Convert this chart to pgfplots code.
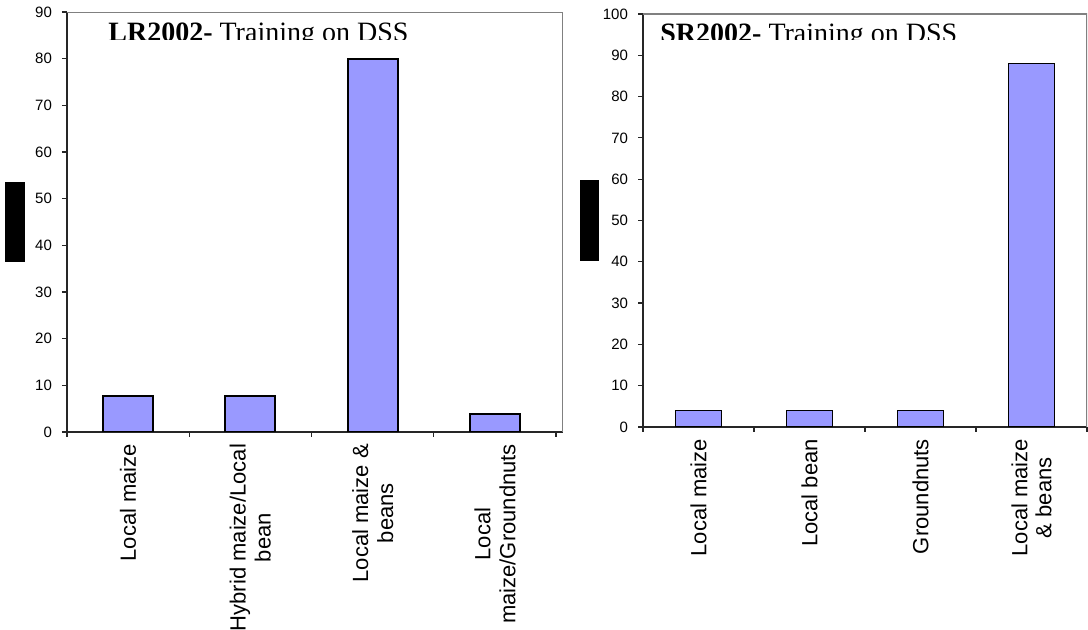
\documentclass[border=0pt]{standalone}
\usepackage{pgfplots}
\pgfplotsset{compat=1.18}
\usepackage{fontspec}
\setmainfont{Liberation Serif}
\newfontfamily\arial{Liberation Sans}
\definecolor{barblue}{HTML}{9999FF}
\definecolor{framegray}{HTML}{808080}

\pgfplotsset{
  cropbars/.style={
    scale only axis,
    anchor=south west,
    ybar,
    bar shift=0pt,
    axis x line*=bottom,
    axis y line*=left,
    axis line style={-, draw=black!85, line width=0.6pt},
    xmin=-0.5,
    ymin=0,
    xtick={-0.5,0.5,1.5,2.5,3.5},
    x tick label as interval,
    tick align=outside,
    major tick length=2.5pt,
    tick style={black!85, line width=0.6pt},
    ytick distance=10,
    /pgf/number format/assume math mode=true,
    yticklabel style={font=\arial\fontsize{7.5}{9}\selectfont, xshift=-1.5pt},
    xticklabel style={font=\arial\fontsize{11}{12.5}\selectfont,
      rotate=90, anchor=east, align=center},
  },
  cropbar/.style={fill=barblue, draw=black, line width=0.9pt},
}

\begin{document}
\begin{tikzpicture}
\useasboundingbox (0pt,0pt) rectangle (544pt,315pt);

% Long rains 2002
\begin{axis}[cropbars,
    at={(33.5pt,99pt)},
    width=248pt, height=210pt,
    xmax=3.557, ymax=90,
    bar width=25pt,
    xticklabels={Local maize, {Hybrid maize/Local\\bean}, {Local maize \&\\beans}, {Local\\maize/Groundnuts}},
  ]
  \addplot[cropbar] coordinates {(0,7.7) (1,7.7) (2,80) (3,3.8)};
  \draw[framegray, line width=1pt] (rel axis cs:0,1) -- (rel axis cs:1,1) -- (rel axis cs:1,0);
\end{axis}

% Short rains 2002
\begin{axis}[cropbars,
    at={(321.5pt,101.5pt)},
    width=222pt, height=206.5pt,
    xmax=3.5, ymax=100,
    bar width=23pt,
    xticklabel style={font=\arial\fontsize{11}{12}\selectfont},
    xticklabels={Local maize, Local bean, Groundnuts, {Local maize\\\& beans}},
  ]
  \addplot[cropbar] coordinates {(0,4) (1,4) (2,4) (3,88)};
  \draw[framegray, line width=1pt] (rel axis cs:0,1) -- (rel axis cs:1,1) -- (rel axis cs:1,0);
\end{axis}

% panel headings, cut off along their lower edge
\begin{scope}
  \clip (34pt,295pt) rectangle (281pt,309pt);
  \node[anchor=base west, inner sep=0pt, font=\fontsize{14}{16}\selectfont] at (54pt,294.25pt)
    {\textbf{LR2002-} Training on DSS};
\end{scope}
\begin{scope}
  \clip (322pt,295.25pt) rectangle (543pt,308pt);
  \node[anchor=base west, inner sep=0pt, font=\fontsize{14}{16}\selectfont] at (330pt,293.75pt)
    {\textbf{SR2002-} Training on DSS};
\end{scope}

% blacked-out axis captions
\fill[black] (2.5pt,184pt) rectangle (12.5pt,224pt);
\fill[black] (290pt,184.5pt) rectangle (299.5pt,225pt);
\end{tikzpicture}
\end{document}
